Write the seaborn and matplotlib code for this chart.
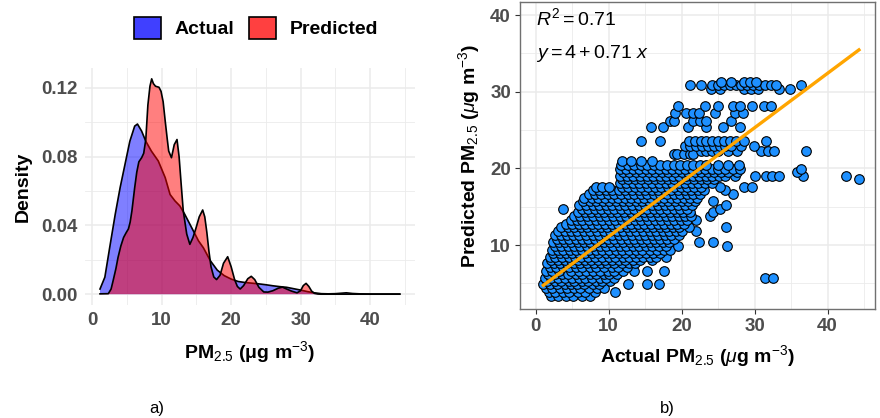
import matplotlib
matplotlib.use("Agg")
import matplotlib.pyplot as plt
from matplotlib.patches import Patch
import seaborn as sns
import numpy as np
import pandas as pd

# ---------------- data: density curves ----------------
actual_x = [1.1, 1.8, 2.5, 3.3, 4.0, 4.7, 5.4, 6.1, 6.5, 7.1, 7.7, 8.5, 9.5, 10.5, 11.2,
            11.9, 12.6, 13.3, 14.3, 15.3, 16.0, 17.0, 18.0, 19.0, 20.0, 21.0, 22.0, 23.0,
            24.0, 25.0, 26.0, 27.0, 28.0, 29.0, 30.0, 31.0, 32.0, 33.0, 34.0, 35.0, 36.0,
            36.6, 37.5, 38.5, 40.0, 42.0, 44.3]
actual_density = [0.003, 0.0099, 0.0272, 0.0466, 0.062, 0.0755, 0.089, 0.0978, 0.099,
                  0.0949, 0.089, 0.0833, 0.0775, 0.0678, 0.058, 0.0543, 0.0514, 0.0466,
                  0.0388, 0.031, 0.027, 0.0195, 0.014, 0.0108, 0.0088, 0.0074, 0.0068,
                  0.0064, 0.006, 0.0055, 0.0049, 0.0044, 0.004, 0.0032, 0.0024, 0.0015,
                  0.0008, 0.0003, 0.0002, 0.0003, 0.0006, 0.0008, 0.0004, 0.0002, 0.0001,
                  0.0001, 0.0001]

pred_x = [1.1, 2.3, 2.7, 3.0, 3.4, 3.7, 4.1, 4.5, 4.9, 5.2, 5.45, 5.7, 6.1, 6.4, 6.7, 7.1,
          7.4, 7.7, 8.0, 8.3, 8.55, 8.8, 9.1, 9.6, 9.9, 10.2, 10.5, 10.8, 11.0, 11.4, 11.8,
          12.2, 12.5, 12.8, 13.1, 13.6, 14.05, 14.5, 14.9, 15.4, 15.9, 16.2, 16.5, 16.8,
          17.1, 17.5, 17.9, 18.4, 18.9, 19.5, 20.0, 20.5, 20.9, 21.3, 21.8, 22.4, 22.9,
          23.4, 24.0, 24.7, 25.3, 26.0, 26.8, 27.4, 28.0, 28.7, 29.5, 30.0, 30.4, 30.8,
          31.2, 31.6, 32.0, 32.5, 33.0, 44.3]
pred_density = [0.0002, 0.0003, 0.003, 0.008, 0.015, 0.0214, 0.028, 0.033, 0.036, 0.038,
                0.042, 0.0485, 0.062, 0.071, 0.077, 0.0794, 0.082, 0.090, 0.110, 0.121,
                0.1253, 0.1225, 0.121, 0.1204, 0.118, 0.112, 0.1007, 0.090, 0.0833, 0.0794,
                0.087, 0.090, 0.080, 0.064, 0.0485, 0.035, 0.029, 0.033, 0.038, 0.045,
                0.049, 0.045, 0.036, 0.025, 0.016, 0.010, 0.0085, 0.011, 0.018, 0.0218,
                0.016, 0.0085, 0.0045, 0.003, 0.005, 0.009, 0.0104, 0.0085, 0.004, 0.0013,
                0.0012, 0.002, 0.0035, 0.0041, 0.003, 0.0018, 0.0008, 0.002, 0.005, 0.0063,
                0.0045, 0.0018, 0.0005, 0.0001, 0.0, 0.0]

# ---------------- data: scatter, grouped by predicted level -----------
predicted_levels = [3.4, 3.9, 4.4, 4.9, 5.3, 5.7, 6.2, 6.6, 7.1, 7.6, 8.0, 8.5, 9.0, 9.4,
                    9.9, 10.4, 10.8, 11.3, 11.8, 12.3, 12.8, 13.3, 13.8, 14.3, 14.7, 15.2,
                    15.7, 16.2, 16.7, 17.2, 17.6, 18.1, 18.6, 19.0, 19.5, 19.9, 20.4, 20.9,
                    21.9, 22.3, 22.9, 23.6, 25.4, 26.2, 27.2, 28.2, 30.3, 30.9, 31.3]
actual_by_level = [
    [2.1, 3.0, 4.2, 5.1, 6.4, 7.5],
    [1.8, 2.6, 3.7, 4.6, 5.8, 6.8, 8.1, 10.9],
    [1.4, 2.3, 3.3, 4.3, 5.2, 6.1, 7.3, 8.4, 9.4],
    [1.05, 2.0, 2.9, 4.0, 4.8, 5.7, 6.6, 7.8, 8.7, 12.7, 15.2, 16.9],
    [1.6, 2.6, 3.5, 4.5, 5.3, 6.3, 7.2, 8.2, 9.1, 10.2],
    [1.3, 2.1, 3.1, 4.0, 5.0, 5.9, 6.8, 7.7, 8.8, 9.7, 10.7, 31.4, 32.5],
    [1.7, 2.7, 3.6, 4.4, 5.5, 6.4, 7.4, 8.3, 9.3, 10.1, 11.2],
    [1.4, 2.3, 3.2, 4.9, 5.9, 6.9, 7.9, 8.8, 9.9, 10.8, 11.9, 13.5, 15.3, 17.6],
    [1.9, 2.8, 3.8, 4.5, 5.5, 6.4, 7.4, 8.3, 9.4, 10.4, 11.3, 12.5],
    [1.6, 2.5, 3.4, 4.3, 5.2, 6.1, 7.0, 8.0, 8.9, 9.8, 10.8, 11.8, 12.8, 13.6],
    [2.1, 3.0, 4.0, 4.8, 5.8, 6.7, 7.6, 8.5, 9.5, 10.4, 11.4, 12.3, 13.3, 14.3, 15.9],
    [1.9, 2.7, 3.6, 4.5, 5.4, 6.2, 7.2, 8.1, 9.1, 10.0, 10.9, 11.9, 12.8, 13.8, 14.7, 15.6,
     16.5, 17.9],
    [2.4, 3.3, 4.1, 5.0, 5.9, 6.8, 7.7, 8.6, 9.6, 10.5, 11.4, 12.3, 13.3, 14.2, 15.1, 16.1,
     17.0],
    [2.2, 3.0, 3.8, 4.7, 5.5, 6.4, 7.3, 8.2, 9.1, 10.1, 11.0, 11.8, 12.8, 13.7, 14.6, 15.6,
     16.6, 17.6, 18.4],
    [2.6, 3.5, 4.4, 5.2, 6.1, 7.0, 7.9, 8.8, 9.7, 10.6, 11.5, 12.4, 13.3, 14.2, 15.1, 16.0,
     16.9, 17.9, 19.5, 26.2],
    [2.4, 3.2, 4.0, 4.9, 5.8, 6.6, 7.5, 8.4, 9.3, 10.2, 11.1, 12.0, 12.9, 13.8, 14.7, 15.6,
     16.5, 17.4, 18.3, 22.4, 24.3],
    [2.9, 3.8, 4.6, 5.5, 6.3, 7.2, 8.1, 9.0, 9.9, 10.8, 11.7, 12.6, 13.5, 14.4, 15.3, 16.2,
     17.1, 18.0, 18.9],
    [2.7, 3.5, 4.3, 5.1, 6.0, 6.9, 7.8, 8.7, 9.6, 10.5, 11.4, 12.3, 13.2, 14.1, 15.0, 15.9,
     16.8, 17.7, 18.6, 19.6],
    [3.1, 4.0, 4.8, 5.7, 6.6, 7.5, 8.4, 9.3, 10.2, 11.1, 12.0, 12.9, 13.8, 14.7, 15.6, 16.5,
     17.4, 18.3, 19.2, 20.0, 22.0],
    [3.5, 4.4, 5.3, 6.2, 7.1, 8.0, 8.9, 9.8, 10.7, 11.6, 12.5, 13.4, 14.3, 15.2, 16.1, 17.0,
     17.9, 18.8, 19.7, 21.0, 26.1],
    [4.1, 5.0, 5.9, 6.8, 7.7, 8.6, 9.5, 10.4, 11.3, 12.2, 13.1, 14.0, 14.9, 15.8, 16.7, 17.6,
     18.5, 19.4, 20.3],
    [4.9, 5.6, 6.4, 7.3, 8.2, 9.1, 10.0, 10.9, 11.8, 12.7, 13.6, 14.5, 15.4, 16.3, 17.2,
     18.1, 19.0, 19.9, 20.8, 22.0],
    [5.3, 6.1, 7.0, 7.9, 8.8, 9.7, 10.6, 11.5, 12.4, 13.3, 14.2, 15.1, 16.0, 16.9, 17.8,
     18.7, 19.6, 20.5, 21.3, 23.9],
    [5.8, 6.7, 7.6, 8.5, 9.4, 10.3, 11.2, 12.1, 13.0, 13.9, 14.8, 15.7, 16.6, 17.5, 18.4,
     19.3, 20.2, 21.1, 24.3],
    [3.7, 6.3, 7.2, 8.1, 9.0, 9.9, 10.8, 11.7, 12.6, 13.5, 14.4, 15.3, 16.2, 17.1, 18.0,
     18.9, 19.8, 20.7, 25.3],
    [6.0, 6.9, 7.8, 8.7, 9.6, 10.5, 11.4, 12.3, 13.2, 14.1, 15.0, 15.9, 16.8, 17.7, 18.6,
     19.5, 20.4, 21.4, 26.1],
    [6.5, 7.4, 8.3, 9.2, 10.1, 11.0, 11.9, 12.8, 13.7, 14.6, 15.5, 16.4, 17.3, 18.2, 19.1,
     20.0, 20.9, 21.8, 24.3],
    [6.6, 7.7, 8.6, 9.5, 10.4, 11.3, 12.2, 13.1, 14.0, 14.9, 15.8, 16.7, 17.6, 18.5, 19.4,
     20.3, 21.2, 22.1],
    [7.3, 8.1, 9.0, 9.9, 10.8, 11.7, 12.6, 13.5, 14.4, 15.3, 16.2, 17.1, 18.0, 18.9, 19.8,
     20.7, 21.6, 22.5, 27.1],
    [7.8, 8.7, 9.6, 10.5, 11.4, 12.3, 13.2, 14.1, 15.0, 15.9, 16.8, 17.7, 18.6, 19.5, 20.4,
     21.3, 22.2, 23.1, 26.0],
    [8.2, 9.1, 10.0, 11.8, 12.7, 13.6, 14.5, 15.4, 16.3, 17.2, 18.1, 19.0, 19.9, 20.8, 21.7,
     22.6, 25.2, 28.5, 29.7],
    [11.5, 12.4, 13.3, 14.2, 15.1, 16.0, 16.9, 17.8, 18.7, 19.6, 20.5, 21.4, 22.3, 23.2, 24.1],
    [11.8, 12.7, 13.6, 14.5, 15.4, 16.3, 17.2, 18.1, 19.0, 19.9, 20.8, 21.7, 22.6, 23.5,
     24.4, 44.3],
    [11.6, 12.5, 13.4, 14.3, 15.2, 16.1, 17.0, 17.9, 18.8, 19.7, 20.6, 21.5, 22.4, 23.3,
     24.2, 25.1, 26.0, 27.3, 30.0, 31.5, 32.4, 33.3, 36.6, 42.5],
    [11.9, 12.8, 13.7, 14.6, 15.5, 16.4, 17.3, 18.2, 19.1, 20.0, 20.9, 21.8, 22.7, 23.6,
     24.5, 25.4, 26.3, 27.6, 35.8],
    [11.5, 12.4, 13.3, 14.2, 15.1, 16.0, 16.9, 17.8, 18.7, 19.6, 20.5, 21.4, 22.3, 23.2,
     24.1, 25.0, 26.0, 27.0, 28.0, 36.4],
    [11.7, 12.6, 13.5, 14.4, 15.3, 16.2, 17.1, 18.0, 18.9, 19.8, 20.7, 21.6, 22.5, 23.4,
     25.0, 26.4, 27.8],
    [11.8, 13.0, 14.4, 16.0],
    [18.9, 19.3, 20.3, 21.2, 21.6],
    [22.6, 23.4, 24.2, 25.0, 26.4, 27.6, 30.9, 31.8, 32.6, 37.1],
    [20.4, 21.2, 22.0, 22.8, 23.6, 24.4, 25.2, 26.0, 26.8, 28.2, 29.9],
    [14.4, 17.0, 21.0, 21.8, 22.6, 23.4, 24.2, 25.0, 25.8, 26.6, 27.4, 28.6, 31.5],
    [15.8, 17.4, 20.9, 23.4, 25.7, 28.0],
    [18.4, 19.0, 21.6, 22.5, 23.4, 26.8],
    [19.1, 20.6, 21.5, 22.4, 24.6, 27.3, 28.4],
    [19.5, 23.2, 25.0, 27.1, 28.0, 29.7, 31.3, 32.2],
    [24.0, 25.3, 28.5, 29.5, 30.5, 33.4, 34.8],
    [21.1, 22.6, 24.2, 25.0, 25.8, 26.6, 27.4, 28.2, 29.0, 29.8, 30.6, 31.4, 32.2, 32.9, 36.4],
    [25.4, 26.8, 28.6, 29.4, 30.2],
]

fit_intercept = 4.0
fit_slope = 0.71
r_squared = 0.71

x_ticks = [0, 10, 20, 30, 40]
density_ticks = [0.00, 0.04, 0.08, 0.12]
pred_ticks = [10, 20, 30, 40]

# ---------------- style ----------------
plt.rcParams['font.family'] = ['Liberation Sans', 'DejaVu Sans']
plt.rcParams['mathtext.fontset'] = 'custom'
plt.rcParams['mathtext.rm'] = 'Liberation Sans'
plt.rcParams['mathtext.it'] = 'Liberation Sans:italic'
plt.rcParams['mathtext.bf'] = 'Liberation Sans:bold'

TICK_COLOR = '#4D4D4D'
GRID = '#EBEBEB'
TICK_SIZE = 13.5
LABEL_SIZE = 14

fig = plt.figure(figsize=(8.8, 4.18), dpi=100)
ax1 = fig.add_axes([0.0966, 0.2703, 0.375, 0.567])
ax2 = fig.add_axes([0.5909, 0.2608, 0.4034, 0.7344])

# ---------------- panel a: densities ----------------
ax1.fill_between(actual_x, actual_density, 0, facecolor=(0, 0, 1, 0.5), edgecolor='none', zorder=2)
sns.lineplot(x=actual_x, y=actual_density, ax=ax1, color='black', lw=1.2, zorder=2.1,
             sort=False, estimator=None)
ax1.fill_between(pred_x, pred_density, 0, facecolor=(1, 0, 0, 0.5), edgecolor='none', zorder=2.2)
sns.lineplot(x=pred_x, y=pred_density, ax=ax1, color='black', lw=1.2, zorder=2.3,
             sort=False, estimator=None)

ax1.set_xlim(-1.06, 46.5)
ax1.set_ylim(-0.0063, 0.1316)
ax1.set_xticks(x_ticks)
ax1.set_xticks([5, 15, 25, 35, 45], minor=True)
ax1.set_yticks(density_ticks)
ax1.set_yticks([0.02, 0.06, 0.10], minor=True)
ax1.set_yticklabels([f"{v:.2f}" for v in density_ticks])
for s in ax1.spines.values():
    s.set_visible(False)
ax1.tick_params(which='both', length=0)
ax1.tick_params(axis='both', labelsize=TICK_SIZE, labelcolor=TICK_COLOR, pad=5)
for lab in ax1.get_xticklabels() + ax1.get_yticklabels():
    lab.set_fontweight('bold')
ax1.grid(which='major', color=GRID, lw=1.1, zorder=0)
ax1.grid(which='minor', color=GRID, lw=0.6, zorder=0)
ax1.set_axisbelow(True)
ax1.set_xlabel("PM$_{2.5}$ (μg m$^{-3}$)", fontsize=LABEL_SIZE, fontweight='bold', labelpad=7)
ax1.set_ylabel("Density", fontsize=LABEL_SIZE, fontweight='bold', labelpad=7)

handles = [Patch(facecolor=(0.25, 0.25, 1.0), edgecolor='black', lw=1.2),
           Patch(facecolor=(1.0, 0.25, 0.25), edgecolor='black', lw=1.2)]
fig.legend(handles, ["Actual", "Predicted"], loc='center', bbox_to_anchor=(0.291, 0.933),
           ncol=2, frameon=False, prop={'weight': 'bold', 'size': 14},
           handlelength=1.4, handleheight=1.4, handletextpad=0.7, columnspacing=0.75)

# ---------------- panel b: scatter ----------------
rows = []
for lvl, xs in zip(predicted_levels, actual_by_level):
    for xv in xs:
        rows.append((xv, lvl))
df = pd.DataFrame(rows, columns=['actual', 'predicted'])

sns.scatterplot(data=df, x='actual', y='predicted', ax=ax2, s=48, color='#1E90FF',
                edgecolor='black', linewidth=0.8, zorder=3, legend=False)
line_x = np.array([df['actual'].min(), df['actual'].max()])
line_y = fit_intercept + fit_slope * line_x
sns.lineplot(x=line_x, y=line_y, ax=ax2, color='#FFA500', lw=2.4, zorder=4)

ax2.set_xlim(-2.15, 46.5)
ax2.set_ylim(1.66, 41.7)
ax2.set_xticks(x_ticks)
ax2.set_xticks([5, 15, 25, 35, 45], minor=True)
ax2.set_yticks(pred_ticks)
ax2.set_yticks([5, 15, 25, 35], minor=True)
for s in ax2.spines.values():
    s.set_color('#707070')
    s.set_linewidth(1.0)
ax2.tick_params(which='major', length=3.5, width=0.8, color='#333333')
ax2.tick_params(which='minor', length=0)
ax2.tick_params(axis='both', labelsize=TICK_SIZE, labelcolor=TICK_COLOR, pad=3)
for lab in ax2.get_xticklabels() + ax2.get_yticklabels():
    lab.set_fontweight('bold')
ax2.grid(which='major', color=GRID, lw=1.1, zorder=0)
ax2.grid(which='minor', color=GRID, lw=0.6, zorder=0)
ax2.set_axisbelow(True)
ax2.set_xlabel("Actual PM$_{2.5}$ ($\\mu$g m$^{-3}$)", fontsize=LABEL_SIZE, fontweight='bold', labelpad=6)
ax2.set_ylabel("Predicted PM$_{2.5}$ ($\\mu$g m$^{-3}$)", fontsize=LABEL_SIZE, fontweight='bold', labelpad=6)

ax2.text(0.1, 38.7, f"$R^2 = {r_squared:.2f}$", fontsize=14, ha='left', va='baseline', zorder=5)
ax2.text(0.1, 34.4, f"$y = {fit_intercept:g} + {fit_slope:.2f}\\ x$", fontsize=14,
         ha='left', va='baseline', zorder=5)

fig.text(157 / 880, 1 - 408 / 418, "a)", fontsize=12, ha='center', va='center')
fig.text(667 / 880, 1 - 408 / 418, "b)", fontsize=12, ha='center', va='center')

fig.savefig("out.png", dpi=100)
